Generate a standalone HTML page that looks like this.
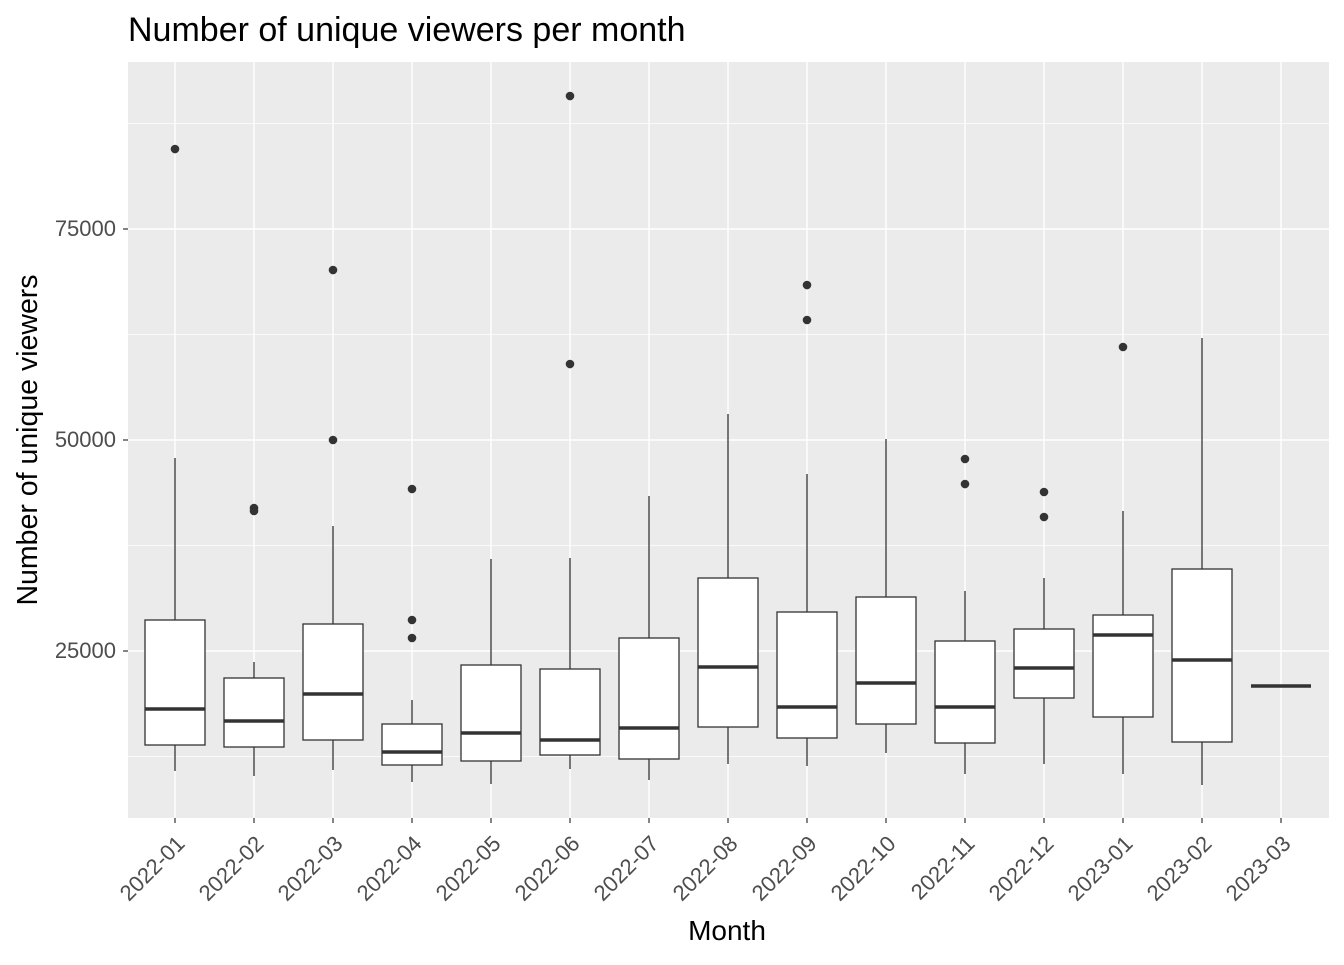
<!DOCTYPE html>
<html><head><meta charset="utf-8"><style>
body{margin:0;background:#fff;}
svg text{font-family:"Liberation Sans",sans-serif;}
</style></head><body>
<svg id="chart" width="1344" height="960" xmlns="http://www.w3.org/2000/svg">
<rect width="1344" height="960" fill="#fff"/>
<text x="128" y="41" font-size="34" fill="#000">Number of unique viewers per month</text>
<rect x="128" y="62" width="1201" height="756" fill="#ebebeb"/>
<g id="grid"></g><g id="boxes"></g><g id="axes"></g>
<text x="727" y="940" font-size="28" text-anchor="middle">Month</text>
<text transform="translate(37,440) rotate(-90)" font-size="28.5" text-anchor="middle">Number of unique viewers</text>
</svg>
<script>
const months=["2022-01","2022-02","2022-03","2022-04","2022-05","2022-06","2022-07","2022-08","2022-09","2022-10","2022-11","2022-12","2023-01","2023-02","2023-03"];
const lows=[10782,10190,10900,9478,9241,11019,9715,11611,11374,12914,10426,11611,10426,9123,20853];
const q1s=[13862,13625,14455,11493,11967,12677,12204,15995,14692,16350,14099,19431,17180,14218,20853];
const medians=[18127,16706,19905,13033,15284,14455,15876,23104,18364,21208,18364,22986,26896,23933,20853];
const q3s=[28673,21800,28199,16350,23341,22867,26540,33648,29620,31397,26185,27606,29265,34715,20853];
const highs=[47868,23696,39809,19194,35900,36018,43364,53079,45970,50118,32108,33648,41587,62084,20853];
const outliers=[[84477],[41942,41587],[50000,70140],[26540,28673,44193],[],[59003,90756],[],[],[64217,68363],[],[44785,47748],[40876,43838],[61018],[],[]];
const yTicks=[25000,50000,75000];
const yMinor=[12500,37500,62500,87500];
const NS="http://www.w3.org/2000/svg";
function y(v){return 862-v*211/25000;}
function x(i){return 175+i*79;}
function mk(tag,attrs,parent){const e=document.createElementNS(NS,tag);for(const k in attrs)e.setAttribute(k,attrs[k]);parent.appendChild(e);return e;}
const grid=document.getElementById('grid'),boxes=document.getElementById('boxes'),axes=document.getElementById('axes');
yMinor.forEach(v=>{const l=mk('line',{x1:128,x2:1329,y1:y(v),y2:y(v),stroke:'#fff','stroke-width':0.7},grid);

});
yTicks.forEach(v=>{const l=mk('line',{x1:128,x2:1329,y1:y(v),y2:y(v),stroke:'#fff','stroke-width':1.4},grid);


mk('line',{x1:123,x2:128,y1:y(v),y2:y(v),stroke:'#333','stroke-width':1.2},axes);
const t=mk('text',{x:116,y:y(v)+7,'font-size':22,fill:'#4d4d4d','text-anchor':'end'},axes);t.textContent=v;

});
months.forEach((m,i)=>{const cx=x(i);
const g=mk('line',{x1:cx,x2:cx,y1:62,y2:818,stroke:'#fff','stroke-width':1.4},grid);


mk('line',{x1:cx,x2:cx,y1:818,y2:823,stroke:'#333','stroke-width':1.2},axes);
const t=mk('text',{transform:`translate(${cx+11},${845}) rotate(-45)`,'font-size':22,fill:'#4d4d4d','text-anchor':'end'},axes);t.textContent=m;


const b=mk('g',{},boxes);


mk('line',{x1:cx,x2:cx,y1:y(highs[i]),y2:y(q3s[i]),stroke:'#333','stroke-width':1.3},b);
mk('line',{x1:cx,x2:cx,y1:y(q1s[i]),y2:y(lows[i]),stroke:'#333','stroke-width':1.3},b);
mk('rect',{x:cx-30,y:y(q3s[i]),width:60,height:Math.max(0,y(q1s[i])-y(q3s[i])),fill:'#fff',stroke:'#333','stroke-width':1.3},b);
mk('line',{x1:cx-30,x2:cx+30,y1:y(medians[i]),y2:y(medians[i]),stroke:'#333','stroke-width':3.5},b);
outliers[i].forEach(v=>{const c=mk('circle',{cx:cx,cy:y(v),r:4.3,fill:'#333'},b);

});
});
</script>
</body></html>
